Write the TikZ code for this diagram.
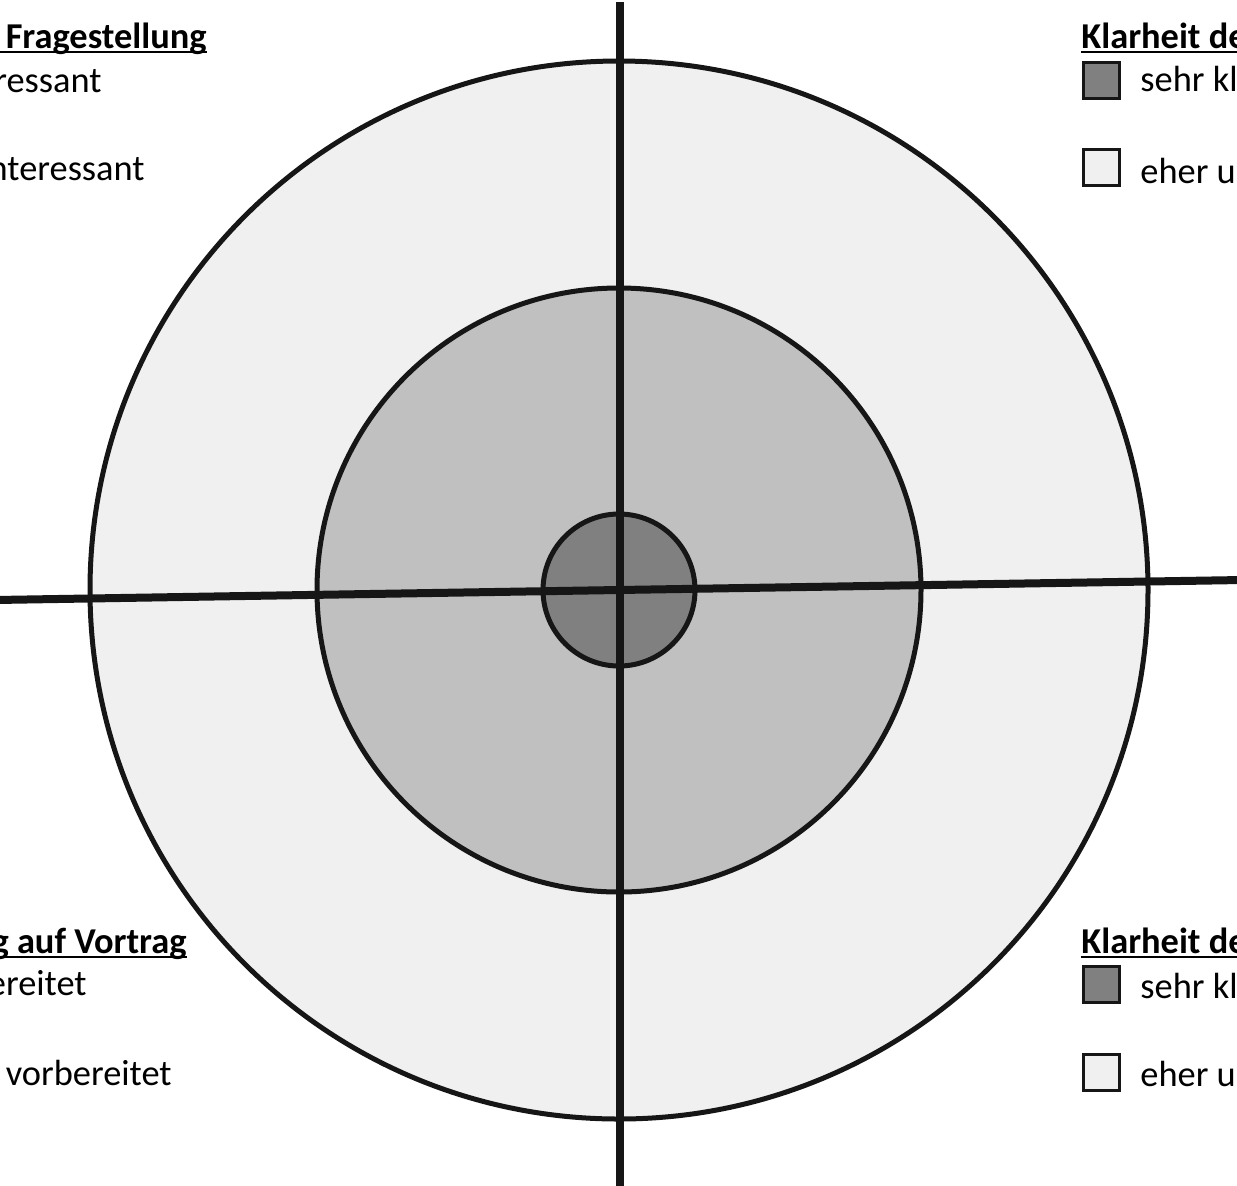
\documentclass[tikz,border=0pt]{standalone}
\usepackage{fontspec}
\setmainfont{Carlito}
\definecolor{ringA}{HTML}{F0F0F0}
\definecolor{ringB}{HTML}{C0C0C0}
\definecolor{ringC}{HTML}{808080}
\definecolor{stroke}{HTML}{161616}
\begin{document}
\begin{tikzpicture}[x=0.5pt,y=-0.5pt,
  ring/.style={draw=stroke,line width=2.5pt},
  axis/.style={draw=stroke,line width=4pt},
  lab/.style={inner sep=0pt,font=\fontsize{18.2}{21}\selectfont,text=black},
  head/.style={lab,font=\fontsize{18.2}{21}\selectfont\bfseries},
  lbox/.style={draw=stroke,line width=1.5pt,minimum size=18pt,inner sep=0pt},
  uline/.style={draw=black,line width=1.4pt}]
\useasboundingbox (0,0) rectangle (1237,1185);
\clip (0,0) rectangle (1237,1185);
% rings
\coordinate (c) at (619,590);
\draw[ring,fill=ringA] (c) circle[radius=529];
\draw[ring,fill=ringB] (c) circle[radius=302];
\draw[ring,fill=ringC] (c) circle[radius=76];
% axes
\coordinate (vt) at (620,2);
\coordinate (vb) at (620,1190);
\coordinate (hl) at (-5,600);
\coordinate (hr) at (1242,580);
\draw[axis] (vt) -- (vb);
\draw[axis] (hl) -- (hr);
% top-left legend
\node[head,anchor=base east] (tlh) at (207,48) {Fragestellung};
\coordinate (tlu) at (-5,52);
\draw[uline] (tlu) -- (tlh.base east |- tlu);
\node[lab,anchor=base east] (tl1) at (102,92) {ressant};
\node[lab,anchor=base east] (tl2) at (145,180) {nteressant};
% bottom-left legend
\node[head,anchor=base east] (blh) at (187,953) {g auf Vortrag};
\coordinate (blu) at (-5,957);
\draw[uline] (blu) -- (blh.base east |- blu);
\node[lab,anchor=base east] (bl1) at (87,995) {ereitet};
\node[lab,anchor=base east] (bl2) at (172,1085) {vorbereitet};
% top-right legend
\node[head,anchor=base west] (trh) at (1081,48) {Klarheit de};
\coordinate (tru) at (1245,52);
\draw[uline] (trh.base west |- tru) -- (tru);
\node[lbox,fill=ringC] (trb1) at (1101.5,80.5) {};
\node[lab,anchor=base west] (tr1) at (1140,91) {sehr kl};
\node[lbox,fill=ringA] (trb2) at (1101.5,167) {};
\node[lab,anchor=base west] (tr2) at (1140,183) {eher u};
% bottom-right legend
\node[head,anchor=base west] (brh) at (1081,953) {Klarheit de};
\coordinate (bru) at (1245,957);
\draw[uline] (brh.base west |- bru) -- (bru);
\node[lbox,fill=ringC] (brb1) at (1101.5,984) {};
\node[lab,anchor=base west] (br1) at (1140,998) {sehr kl};
\node[lbox,fill=ringA] (brb2) at (1101.5,1072) {};
\node[lab,anchor=base west] (br2) at (1140,1086) {eher u};
\end{tikzpicture}
\end{document}
